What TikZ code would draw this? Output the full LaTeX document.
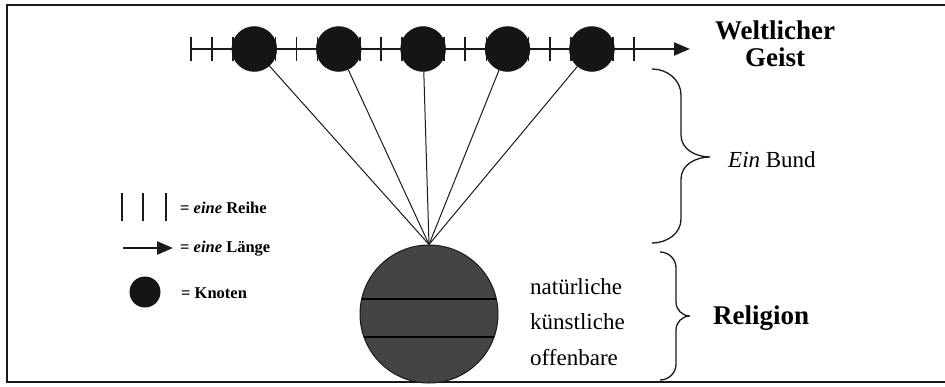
\documentclass[tikz,border=0pt]{standalone}
\usepackage{fontspec}
\setmainfont{Liberation Serif}
\usepackage{tikz}
\usetikzlibrary{arrows.meta, positioning, calc}
\definecolor{knotblack}{HTML}{151515}
\definecolor{religiongray}{HTML}{444444}
\definecolor{inkline}{HTML}{1A1A1A}
\tikzstyle{knoten} = [circle, minimum size=45pt, inner sep=0pt, fill=knotblack, draw=knotblack]
\tikzstyle{tickmark} = [line width=1.7pt, color=inkline]
\tikzstyle{spoke} = [line width=1pt, color=inkline]
\tikzstyle{bigbold} = [font=\fontsize{27}{27}\selectfont\bfseries, align=center, inner sep=0pt]
\tikzstyle{sidetext} = [anchor=west, font=\fontsize{23}{23}\selectfont, inner sep=0pt]
\tikzstyle{legendtext} = [anchor=west, font=\fontsize{16.5}{16.5}\selectfont\bfseries, inner sep=0pt]
\tikzstyle{bracket} = [line width=1.3pt, color=inkline]
\tikzstyle{arrow} = [line width=2pt, color=inkline, -{Triangle[length=16pt, width=13pt]}]

\begin{document}
\begin{tikzpicture}[x=1pt, y=-1pt]
    \useasboundingbox (0,0) rectangle (945,386);
    % Frame
    \draw[line width=2pt, color=inkline] (7,5) rectangle (960,382);

    % Timeline
    \coordinate (lstart) at (191,49);
    \coordinate (lend) at (690,49);
    \draw[arrow] (lstart) -- (lend);
    \foreach \i in {0,...,21}
        \draw[tickmark] ($(lstart)+(\i*21.1,-12)$) -- ($(lstart)+(\i*21.1,12)$);

    % Knots
    \foreach \i/\k in {1/3, 2/7, 3/11, 4/15, 5/19}
        \node[knoten] (k\i) at ($(lstart)+(\k*21.1,0)$) {};

    % Religion
    \node[circle, minimum size=138pt, inner sep=0pt, fill=religiongray, draw=inkline, line width=1pt] (rel) at (429,314) {};
    \draw[line width=1.2pt, color=black] ($(rel.center)+(-67.3,-15)$) -- ($(rel.center)+(67.3,-15)$);
    \draw[line width=1.2pt, color=black] ($(rel.center)+(-65,23)$) -- ($(rel.center)+(65,23)$);

    % Spokes
    \foreach \i in {1,...,5}
        \draw[spoke] (k\i) -- (rel.north);

    % Labels
    \node[bigbold] (geist) at (775,44) {Weltlicher\\Geist};
    \node[sidetext] (bund) at (728,160) {\textit{Ein} Bund};
    \node[sidetext] (nat) at (530,287) {natürliche};
    \node[sidetext] (kuen) at (530,322) {künstliche};
    \node[sidetext] (off) at (530,358) {offenbare};
    \node[bigbold, anchor=west] (religion) at (713,318) {Religion};

    % Braces
    \draw[bracket] (652,69) to[out=0, in=90] (681,95) -- (681,135)
        to[out=-90, in=180] (710,157) to[out=180, in=90] (681,179) -- (681,219)
        to[out=-90, in=0] (652,243);
    \draw[bracket] (660,252) to[out=0, in=90] (676,268) -- (676,302)
        to[out=-90, in=180] (690,316) to[out=180, in=90] (676,330) -- (676,364)
        to[out=-90, in=0] (660,380);

    % Legend
    \foreach \x in {122,143,166}
        \draw[line width=2.4pt, color=inkline] (\x,193) -- (\x,221);
    \node[legendtext] (reihe) at (180,208) {= \textit{eine} Reihe};
    \coordinate (astart) at (123,248);
    \coordinate (aend) at (173,248);
    \draw[arrow, line width=2.6pt] (astart) -- (aend);
    \node[legendtext] (laenge) at (180,249) {= \textit{eine} Länge};
    \node[circle, minimum size=31pt, inner sep=0pt, fill=knotblack] (lknot) at (145,292) {};
    \node[legendtext] (knot) at (181,293) {= Knoten};
\end{tikzpicture}
\end{document}
